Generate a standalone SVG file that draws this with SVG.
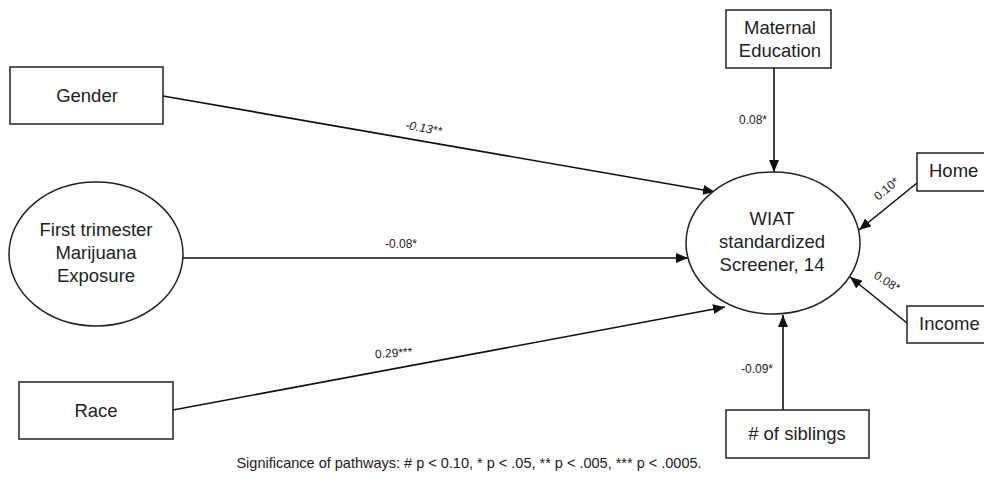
<svg xmlns="http://www.w3.org/2000/svg" width="984" height="485" viewBox="0 0 984 485">
<style>
.box{fill:#fff;stroke:#222;stroke-width:1.5}
.node{font-family:"Liberation Sans",Arial,sans-serif;font-size:18.5px;fill:#222;text-anchor:middle}
.lbl{font-family:"Liberation Sans",Arial,sans-serif;font-size:12px;fill:#222;text-anchor:middle}
.edge{stroke:#111;stroke-width:1.6;fill:none;marker-end:url(#ah)}
</style>
<defs>
<marker id="ah" viewBox="0 0 12 10" refX="12" refY="5" markerWidth="12" markerHeight="10" markerUnits="userSpaceOnUse" orient="auto">
<path d="M0,0 L12,5 L0,10 Z" fill="#111"/>
</marker>
</defs>
<rect width="984" height="485" fill="#fff"/>
<g id="connectors">
<line class="edge" x1="163" y1="96" x2="715" y2="192"/>
<line class="edge" x1="183" y1="258" x2="688" y2="258"/>
<line class="edge" x1="173" y1="410" x2="725" y2="307"/>
<line class="edge" x1="774" y1="68" x2="774" y2="172"/>
<line class="edge" x1="917" y1="183" x2="859" y2="230"/>
<line class="edge" x1="907" y1="323" x2="850" y2="277"/>
<line class="edge" x1="783" y1="410" x2="783" y2="315"/>
<text class="lbl" font-style="italic" transform="translate(423,132) rotate(10)">-0.13**</text>
<text class="lbl" x="401" y="248">-0.08*</text>
<text class="lbl" transform="translate(394,357) rotate(-4)">0.29***</text>
<text class="lbl" x="753" y="124">0.08*</text>
<text class="lbl" transform="translate(889,192) rotate(-40)">0.10*</text>
<text class="lbl" transform="translate(885,285) rotate(32)">0.08*</text>
<text class="lbl" x="757" y="373">-0.09*</text>
</g>
<g id="gender">
<rect class="box" x="10" y="67" width="153" height="57"/>
<text class="node" x="87" y="102">Gender</text>
</g>
<g id="exposure">
<ellipse class="box" cx="96" cy="254" rx="87" ry="72"/>
<text class="node" x="96" y="236">First trimester</text>
<text class="node" x="96" y="259">Marijuana</text>
<text class="node" x="96" y="282">Exposure</text>
</g>
<g id="race">
<rect class="box" x="19" y="382" width="154" height="57"/>
<text class="node" x="96" y="417">Race</text>
</g>
<g id="maternal">
<rect class="box" x="726" y="10" width="105" height="58"/>
<text class="node" x="780" y="34">Maternal</text>
<text class="node" x="780" y="57">Education</text>
</g>
<g id="wiat">
<ellipse class="box" cx="773" cy="243" rx="87" ry="71"/>
<text class="node" x="772" y="225">WIAT</text>
<text class="node" x="772" y="248">standardized</text>
<text class="node" x="772" y="271">Screener, 14</text>
</g>
<g id="home">
<rect class="box" x="917" y="153" width="80" height="38"/>
<text class="node" x="929" y="177" style="text-anchor:start">Home</text>
</g>
<g id="income">
<rect class="box" x="907" y="306" width="90" height="37"/>
<text class="node" x="919" y="330" style="text-anchor:start">Income</text>
</g>
<g id="siblings">
<rect class="box" x="726" y="410" width="143" height="48"/>
<text class="node" x="797" y="440"># of siblings</text>
</g>
<text class="lbl" x="469" y="468" style="font-size:14.5px">Significance of pathways: # p &lt; 0.10, * p &lt; .05, ** p &lt; .005, *** p &lt; .0005.</text>
</svg>
